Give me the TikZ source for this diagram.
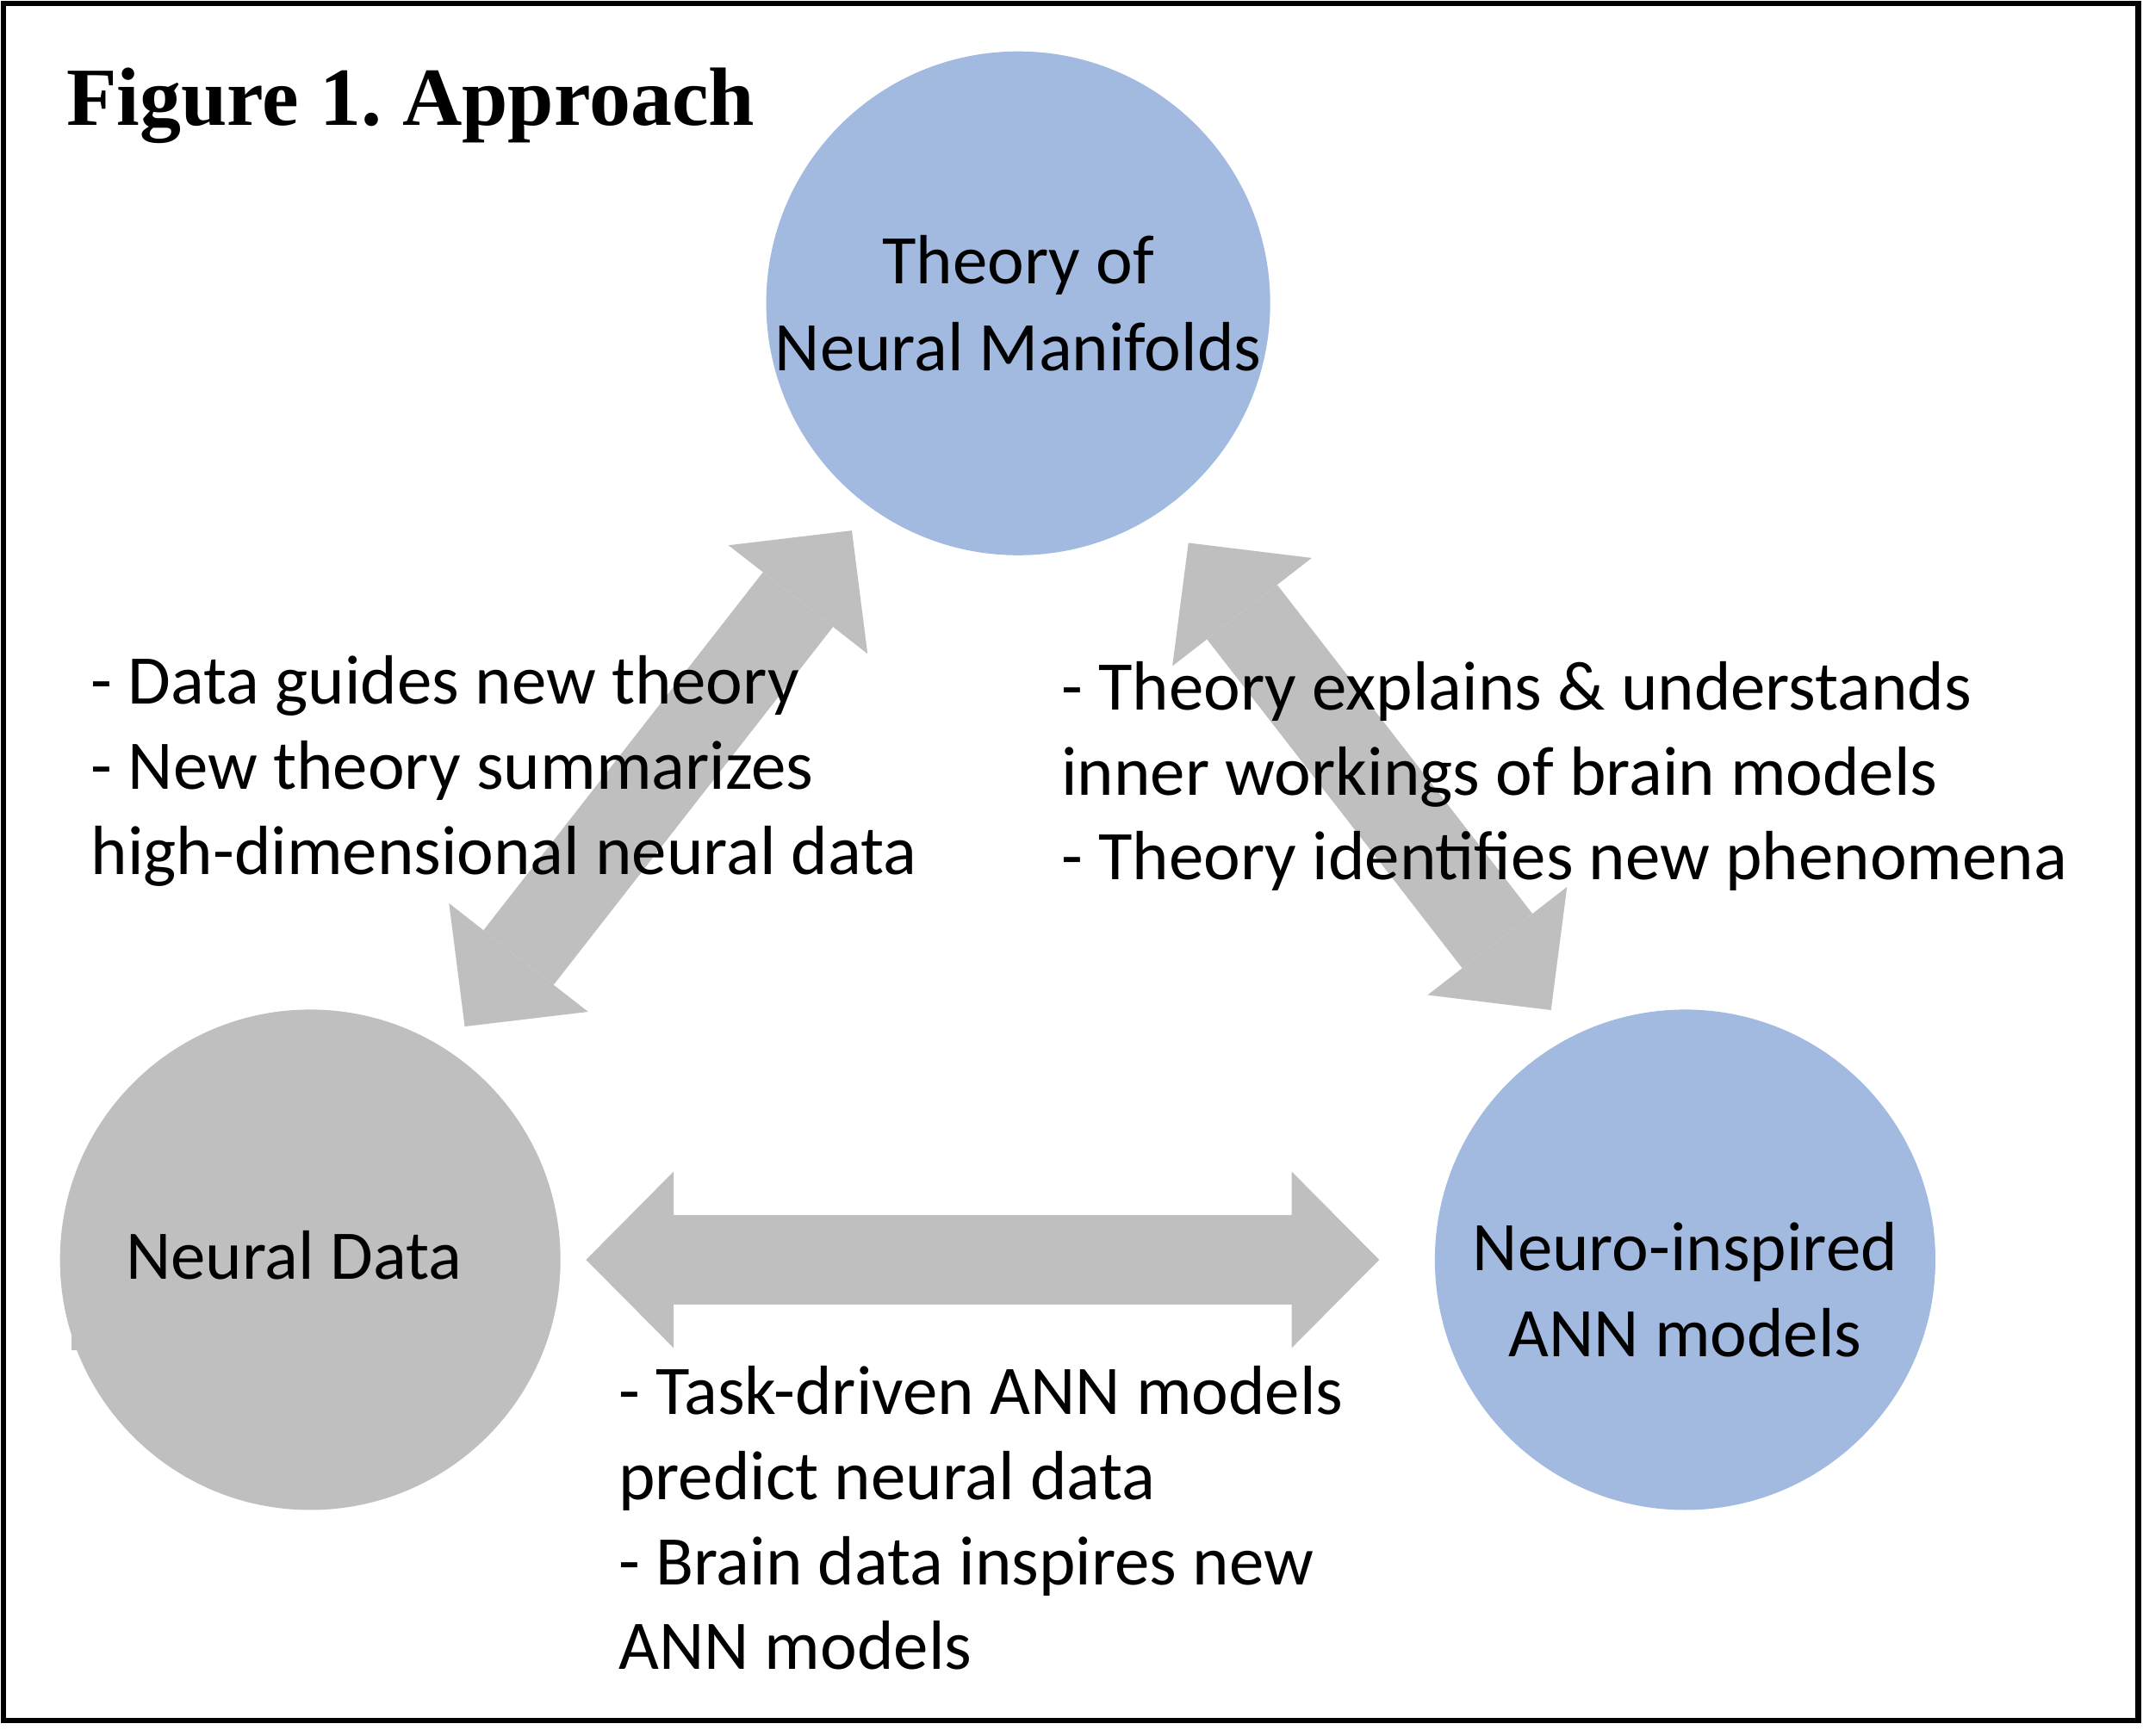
\documentclass[tikz,border=0pt]{standalone}
\usepackage{fontspec}
\setmainfont{Carlito}
\newfontfamily\titlefont{Liberation Serif}
\usetikzlibrary{shapes.geometric, arrows.meta}
\frenchspacing
\definecolor{hubblue}{HTML}{A2B9E0}
\definecolor{hubgray}{HTML}{BFBFBF}
\tikzstyle{theory} = [circle, minimum size=3.66cm, inner sep=0pt, align=center, fill=hubblue, font=\fontsize{14.5}{18}\selectfont]
\tikzstyle{dataset} = [circle, minimum size=3.66cm, inner sep=0pt, fill=hubgray]
\tikzstyle{model} = [circle, minimum size=3.66cm, inner sep=0pt, fill=hubblue]
\tikzstyle{bubbletext} = [align=center, inner sep=0pt, font=\fontsize{14.5}{18}\selectfont]
\tikzstyle{bullets} = [anchor=base west, align=left, inner sep=0pt, font=\fontsize{14.5}{17.7}\selectfont]
\tikzstyle{arrow} = [line width=0.65cm, draw=hubgray, {Triangle[length=0.64cm, width=1.29cm, line width=0pt]}-{Triangle[length=0.64cm, width=1.29cm, line width=0pt]}]
\begin{document}
\begin{tikzpicture}[x=0.01cm, y=-0.01cm]
\useasboundingbox (0,0) rectangle (1568,1270);
\draw [line width=0.04cm] (2.5,2.5) rectangle (1564.5,1259);

\node (title) [anchor=base west, inner sep=0pt, font=\titlefont\bfseries\fontsize{17.2}{20}\selectfont] at (48,92) {Figure 1. Approach};

\node (thy) [theory] at (745,222) {Theory of\\Neural Manifolds};
\node (nd) [dataset] at (227,922) {};
\node (ann) [model] at (1233,922) {};
\fill [hubgray] (52.5,960) rectangle (62,988);
\node (ndtext) [bubbletext] at ([xshift=-0.12cm, yshift=0.03cm]nd.center) {Neural Data};
\node (anntext) [bubbletext] at ([yshift=-0.22cm]ann.center) {Neuro-inspired\\ANN models};

\draw [arrow, shorten <=0.18cm, shorten >=0.40cm] (nd.east) -- (ann.west);
\draw [arrow, shorten <=0.21cm, shorten >=0.21cm] (nd.57) -- (thy.234);
\draw [arrow, shorten <=0.24cm, shorten >=0.30cm] (ann.117) -- (thy.305);

% base anchor of a multi-line node sits on its last line
\node (datanote) [bullets] at (66,640) {- Data guides new theory\\- New theory summarizes\\high-dimensional neural data};
\node (theorynote) [bullets] at (776,644) {- Theory explains \& understands\\inner workings of brain models\\- Theory identifies new phenomena};
\node (modelnote) [bullets] at (452,1222) {- Task-driven ANN models\\predict neural data\\- Brain data inspires new\\ANN models};

\end{tikzpicture}
\end{document}
